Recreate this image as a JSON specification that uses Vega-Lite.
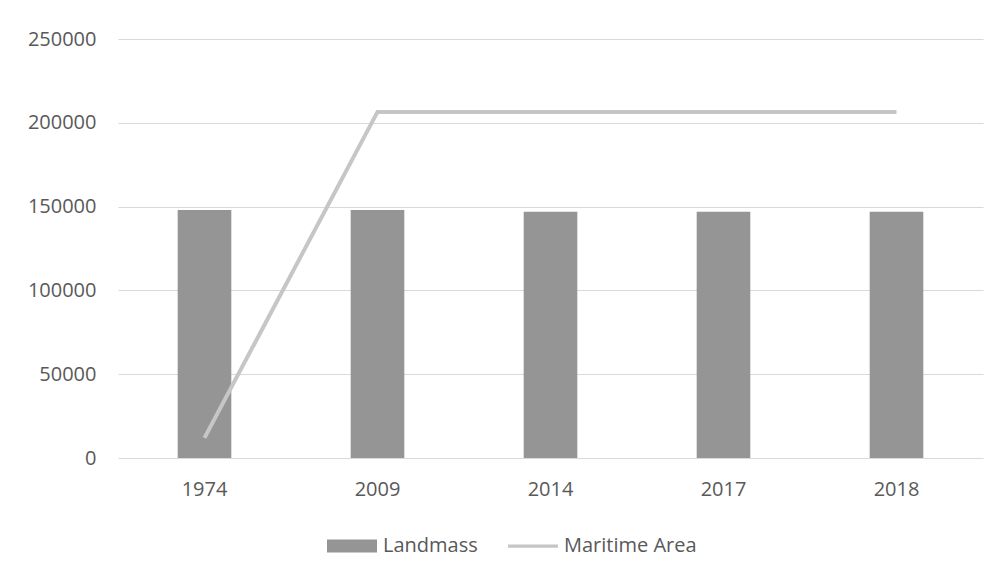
{
  "$schema": "https://vega.github.io/schema/vega-lite/v6.json",
  "width": 865,
  "height": 419,
  "autosize": {"type": "none"},
  "padding": {"left": 118, "top": 39, "right": 20, "bottom": 123},
  "background": "white",
  "config": {
    "view": {"stroke": null},
    "font": "Open Sans",
    "axis": {"labelFont": "Open Sans", "labelFontSize": 20, "labelColor": "#595959"},
    "legend": {"labelFont": "Open Sans", "labelFontSize": 20, "labelColor": "#595959"}
  },
  "data": {
    "values": [
      {"year": "1974", "Landmass": 148000, "Maritime": 12000},
      {"year": "2009", "Landmass": 148000, "Maritime": 206500},
      {"year": "2014", "Landmass": 147000, "Maritime": 206500},
      {"year": "2017", "Landmass": 147000, "Maritime": 206500},
      {"year": "2018", "Landmass": 147000, "Maritime": 206500}
    ]
  },
  "encoding": {
    "x": {
      "field": "year",
      "type": "ordinal",
      "sort": null,
      "scale": {"paddingInner": 0.69, "paddingOuter": 0.345},
      "axis": {"title": null, "labelAngle": 0, "ticks": false, "domain": false, "labelPadding": 21, "grid": false}
    }
  },
  "layer": [
    {
      "mark": {"type": "bar", "color": "#959595"},
      "encoding": {
        "y": {
          "field": "Landmass",
          "type": "quantitative",
          "scale": {"domain": [0, 250000], "nice": false, "zero": true},
          "axis": {"title": null, "values": [0, 50000, 100000, 150000, 200000, 250000], "format": "d", "labelOverlap": false, "ticks": false, "domain": false, "labelPadding": 22, "gridColor": "#d9d9d9", "gridWidth": 1.2}
        },
        "color": {
          "datum": "Landmass",
          "type": "nominal",
          "scale": {"domain": ["Landmass", "Maritime Area"], "range": ["#959595", "#c6c6c6"]},
          "legend": {
            "title": null,
            "orient": "none",
            "direction": "horizontal",
            "legendX": 209,
            "legendY": 482,
            "symbolSize": 2500,
            "symbolType": "M-1,-0.26L1,-0.26L1,0.26L-1,0.26Z",
            "labelOffset": 6,
            "columnPadding": 30,
            "symbolStrokeWidth": 0,
            "encode": {
              "symbols": {
                "update": {
                  "shape": {"signal": "datum.value === 'Landmass' ? 'M-1,-0.26L1,-0.26L1,0.26L-1,0.26Z' : 'M-1,-0.065L1,-0.065L1,0.065L-1,0.065Z'"},
                  "fill": {"signal": "datum.value === 'Landmass' ? '#959595' : '#c6c6c6'"},
                  "strokeWidth": {"value": 0}
                }
              }
            }
          }
        }
      }
    },
    {
      "mark": {"type": "line", "strokeWidth": 4, "color": "#c6c6c6"},
      "encoding": {
        "y": {"field": "Maritime", "type": "quantitative", "scale": {"domain": [0, 250000], "nice": false, "zero": true}},
        "color": {"datum": "Maritime Area", "type": "nominal"}
      }
    }
  ]
}
